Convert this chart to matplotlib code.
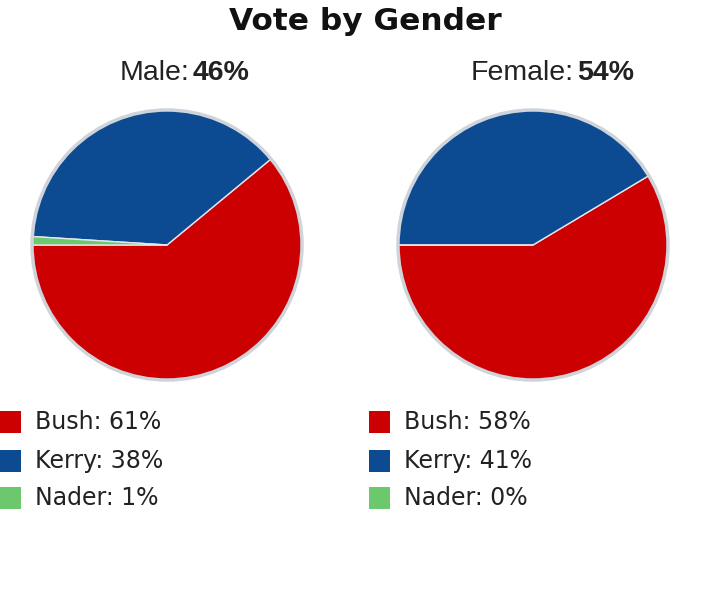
import matplotlib
matplotlib.use("Agg")
import matplotlib.pyplot as plt
from matplotlib.patches import Rectangle, Circle

candidates = ["Bush", "Kerry", "Nader"]
colors = ["#CC0000", "#0C4A92", "#6CC86C"]
groups = ["Male", "Female"]
group_share = [46, 54]
male_votes = [61, 38, 1]
female_votes = [58, 41, 0]
votes = [male_votes, female_votes]

W, H = 720, 591
fig = plt.figure(figsize=(W / 100, H / 100), dpi=100)
fig.patch.set_facecolor("white")

def fx(x):
    return x / W

def fy(y):
    return 1 - y / H

fig.text(fx(365), fy(21), "Vote by Gender", ha="center", va="center",
         fontsize=22.5, fontweight="bold", family="DejaVu Sans", color="#111111")

centers = [167, 533]
sub_split = [190, 574]
legend_x = [0, 369]
R = 135
cy = 245

for i, g in enumerate(groups):
    cx = centers[i]
    ax = fig.add_axes([fx(cx - R - 3), fy(cy + R + 3), (2 * R + 6) / W, (2 * R + 6) / H])
    ax.pie(votes[i], colors=colors, startangle=180, counterclock=True,
           wedgeprops=dict(edgecolor="#e6e6ee", linewidth=1.0))
    ax.add_patch(Circle((0, 0), 1.0, fill=False, edgecolor="#cfd3da", linewidth=2.5))
    lim = (R + 3) / R
    ax.set_xlim(-lim, lim)
    ax.set_ylim(-lim, lim)
    ax.set_aspect("equal")
    ax.axis("off")

    fig.text(fx(sub_split[i]), fy(73), f"{g}:", ha="right", va="center",
             fontsize=20.5, family="Liberation Sans", color="#222222")
    fig.text(fx(sub_split[i] + 3), fy(73), f"{group_share[i]}%", ha="left", va="center",
             fontsize=20.5, fontweight="bold", family="Liberation Sans", color="#222222")

    rows = [422, 461, 498]
    for j, c in enumerate(candidates):
        fig.patches.append(Rectangle((fx(legend_x[i]), fy(rows[j] + 11)), 21 / W, 22 / H,
                                     transform=fig.transFigure, facecolor=colors[j],
                                     edgecolor="none"))
        fig.text(fx(legend_x[i] + 35), fy(rows[j]), f"{c}: {votes[i][j]}%",
                 ha="left", va="center", fontsize=17, family="DejaVu Sans",
                 color="#222222")

fig.savefig("out.png", dpi=100, facecolor="white")
